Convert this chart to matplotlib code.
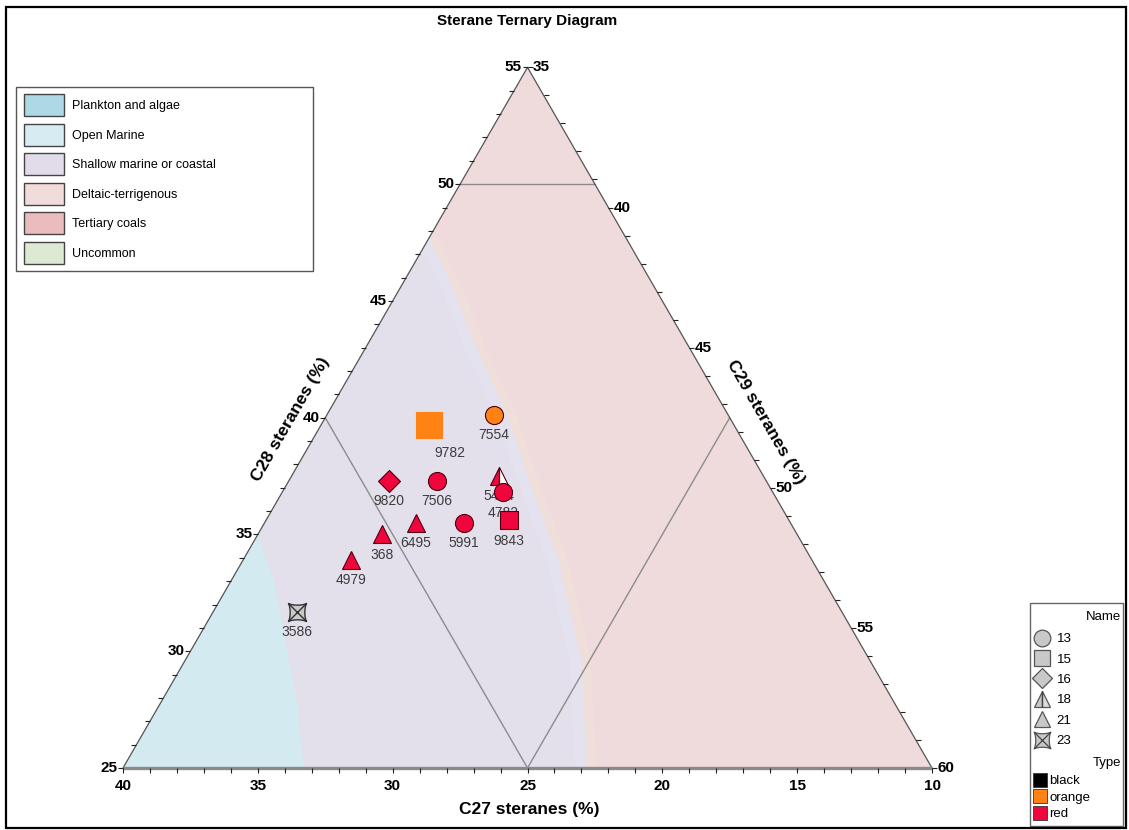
import numpy as np
import matplotlib as mpl
mpl.use('Agg')
import matplotlib.pyplot as plt
from matplotlib.path import Path
from matplotlib.patches import Polygon, Patch, Rectangle
from matplotlib.lines import Line2D
from matplotlib.collections import LineCollection

plt.rcParams['font.family'] = ['Liberation Sans', 'DejaVu Sans']

# sample compositions, % of C27 / C28 / C29 steranes
names = ['9782', '7554', '9820', '7506', '5474', '4782', '9843', '5991', '6495', '368', '4979', '3586']
c27 = [21.3, 18.7, 24.0, 22.2, 19.8, 20.0, 20.4, 22.1, 23.9, 25.4, 27.1, 30.2]
c28 = [39.7, 40.1, 37.3, 37.3, 37.5, 36.8, 35.6, 35.5, 35.5, 35.0, 33.9, 31.7]
c29 = [39.0, 41.2, 38.7, 40.5, 42.7, 43.2, 44.0, 42.4, 40.6, 39.6, 39.0, 38.1]
group = [15, 13, 16, 13, 18, 13, 15, 13, 21, 21, 21, 23]
kind = ['orange', 'orange', 'red', 'red', 'red', 'red', 'red', 'red', 'red', 'red', 'red', 'black']

# environment field boundaries (C27, C28)
marine_c27 = [30.0, 30.4, 31.4, 32.1, 33.3]
marine_c28 = [35.0, 33.0, 30.0, 27.9, 25.0]
shallow_c27 = [17.3, 17.5, 17.9, 18.2, 18.7, 19.1, 19.4, 20.7, 22.8]
shallow_c28 = [47.7, 45.4, 43.0, 40.1, 37.7, 35.6, 33.9, 29.6, 25.0]

c27_ticks = [40, 35, 30, 25, 20, 15, 10]
c28_ticks = [25, 30, 35, 40, 45, 50, 55]
c29_ticks = [35, 40, 45, 50, 55, 60]

field_names = ['Plankton and algae', 'Open Marine', 'Shallow marine or coastal',
               'Deltaic-terrigenous', 'Tertiary coals', 'Uncommon']
field_colors = ['#acd9e4', '#d6ecf2', '#e2dcea', '#f2dcdb', '#ebbcbe', '#dcead4']

name_codes = ['13', '15', '16', '18', '21', '23']
type_names = ['black', 'orange', 'red']
type_colors = {'black': '#000000', 'orange': '#ff8214', 'red': '#f0063c'}

SQ3 = np.sqrt(3) / 2
C28_MIN, C29_MIN, SPAN = 25.0, 35.0, 30.0
PX = 809.0  # pixels per unit of triangle side
W, H = 1129.0, 830.0


def tern(a, b, c):
    b = np.asarray(b, float)
    c = np.asarray(c, float)
    wt = (b - C28_MIN) / SPAN
    wr = (c - C29_MIN) / SPAN
    return wr + 0.5 * wt, SQ3 * wt


def astroid_marker(p=2.6):
    t = np.linspace(0, 2 * np.pi, 61)
    x = np.sign(np.cos(t)) * np.abs(np.cos(t)) ** p
    y = np.sign(np.sin(t)) * np.abs(np.sin(t)) ** p
    r = np.pi / 4
    xr = x * np.cos(r) - y * np.sin(r)
    yr = x * np.sin(r) + y * np.cos(r)
    return Path(np.column_stack([xr, yr]), closed=True)


STAR = astroid_marker()
shape = {13: 'o', 15: 's', 16: 'D', 18: '^', 21: '^', 23: STAR}

fig = plt.figure(figsize=(11.29, 8.30), dpi=100)
ax = fig.add_axes([0, 0, 1, 1])
ax.set_xlim(-123 / PX, 1006 / PX)
ax.set_ylim(-62 / PX, 768 / PX)
ax.axis('off')

BL = tern(40, 25, 35)
BR = tern(10, 25, 65)
TP = tern(10, 55, 35)

tri = Polygon([BL, BR, TP], closed=True, facecolor='#efdbdb', edgecolor='none', zorder=0)
ax.add_patch(tri)


def field(bc27, bc28, shift, color, z):
    a = np.asarray(bc27) + shift
    b = np.asarray(bc28)
    x, y = tern(a, b, 100 - a - b)
    # close the field round the lower-left corner, well outside the triangle
    xs = np.r_[x[0] - 0.3, x, x[-1], -0.3, -0.3]
    ys = np.r_[y[0], y, -0.1, -0.1, y[0]]
    p = Polygon(np.column_stack([xs, ys]), closed=True, facecolor=color, edgecolor='none', zorder=z)
    ax.add_patch(p)
    p.set_clip_path(tri)


# fields, with a soft fringe along the shallow / deltaic boundary
field(shallow_c27, shallow_c28, -0.35, '#f0dedb', 0.3)
field(shallow_c27, shallow_c28, 0.0, '#e4e2ee', 0.4)
field(shallow_c27, shallow_c28, 0.45, '#e3dfeb', 0.5)
field(marine_c27, marine_c28, 0.0, '#d4eaf1', 0.6)

# field divider lines
for a, b in [((15, 50, 35), (10, 50, 40)), ((25, 40, 35), (25, 25, 50)), ((25, 25, 50), (10, 40, 50))]:
    pa, pb = tern(*a), tern(*b)
    ax.plot([pa[0], pb[0]], [pa[1], pb[1]], color='#8c8c8c', lw=1.0, zorder=2)

# triangle edges
ax.plot([BL[0], TP[0], BR[0]], [BL[1], TP[1], BR[1]], color='#555555', lw=0.9, zorder=3)
ax.plot([BL[0], BR[0]], [BL[1], BR[1]], color='#8a8a8a', lw=2.4, zorder=3, solid_capstyle='butt')

tl = 5 / PX
segs = []
for v in range(10, 41):
    x, y = tern(v, 25, 75 - v)
    segs.append([(x, y), (x, y - tl)])
for v in range(25, 56):
    x, y = tern(65 - v, v, 35)
    segs.append([(x, y), (x - tl, y)])
for k in range(26):
    f = k / 25
    x = TP[0] + f * (BR[0] - TP[0])
    y = TP[1] + f * (BR[1] - TP[1])
    segs.append([(x, y), (x + tl, y)])
ax.add_collection(LineCollection(segs, colors='#222222', linewidths=0.8, zorder=3))

tick_font = dict(fontsize=11, fontweight='bold', color='black')
for v in c27_ticks:
    ax.annotate(str(v), tern(v, 25, 75 - v), xytext=(0, -8), textcoords='offset points',
                ha='center', va='top', **tick_font)
for v in c28_ticks:
    ax.annotate(str(v), tern(65 - v, v, 35), xytext=(-4, 0), textcoords='offset points',
                ha='right', va='center', **tick_font)
for v in c29_ticks:
    f = (v - c29_ticks[0]) / (c29_ticks[-1] - c29_ticks[0])
    x = TP[0] + f * (BR[0] - TP[0])
    y = TP[1] + f * (BR[1] - TP[1])
    ax.annotate(str(v), (x, y), xytext=(4, 0), textcoords='offset points',
                ha='left', va='center', **tick_font)

title_font = dict(fontsize=12.5, fontweight='bold', color='black')
ax.annotate('C27 steranes (%)', ((BL[0] + BR[0]) / 2, BL[1]), xytext=(1, -30),
            textcoords='offset points', ha='center', va='center', **title_font)
ax.annotate('C28 steranes (%)', ((BL[0] + TP[0]) / 2, (BL[1] + TP[1]) / 2), xytext=(-25, -1),
            textcoords='offset points', ha='center', va='center', rotation=60, **title_font)
ax.annotate('C29 steranes (%)', ((BR[0] + TP[0]) / 2, (BR[1] + TP[1]) / 2), xytext=(26, -3),
            textcoords='offset points', ha='center', va='center', rotation=-60, **title_font)

fig.text(527 / W, 1 - 21 / H, 'Sterane Ternary Diagram', ha='center', va='center',
         fontsize=11, fontweight='bold')

# samples
px, py = tern(c27, c28, c29)
big = {'9782': 19}
nudge = {'9782': (15, -3)}
for i, name in enumerate(names):
    ms = big.get(name, 13)
    col = type_colors[kind[i]]
    g = group[i]
    if g == 23:
        ax.plot(px[i], py[i], marker=STAR, ms=ms, mfc='#c9c9c9', mec='#333333', mew=1.0,
                ls='none', zorder=6)
        ax.plot(px[i], py[i], marker='x', ms=ms * 0.95, mec='#333333', mew=1.0, ls='none', zorder=6)
    elif g == 18:
        ax.plot(px[i], py[i], marker='^', ms=ms, mfc=col, mec='#4a0010', mew=0.8,
                fillstyle='left', markerfacecoloralt='white', ls='none', zorder=6)
        ax.plot(px[i], py[i], marker='|', ms=ms, mec='#222222', mew=0.8, ls='none', zorder=6)
    else:
        edge = col if (g == 15 and kind[i] == 'orange') else '#4a0010'
        ax.plot(px[i], py[i], marker=shape[g], ms=ms if g != 16 else ms * 0.85, mfc=col,
                mec=edge, mew=0.8, ls='none', zorder=6)
    dx, dy = nudge.get(name, (0, 0))
    ax.annotate(name, (px[i], py[i]), xytext=(dx, -ms / 2 - 8 + dy), textcoords='offset points',
                ha='center', va='center', fontsize=10, color='#3c3c3c', zorder=5)

# field legend
handles = [Patch(facecolor=c, edgecolor='#444444', lw=1.0) for c in field_colors]
fig.legend(handles, field_names, loc='upper left',
           bbox_to_anchor=(16 / W, 1 - 271 / H, 297 / W, 184 / H), mode='expand',
           fontsize=9, frameon=True, fancybox=False, edgecolor='#555555', framealpha=1,
           handlelength=3.2, handleheight=2.33, labelspacing=0.6, borderpad=0.6,
           handletextpad=0.7, borderaxespad=0)

# marker / type legend
gray = dict(mfc='#c8c8c8', mec='#555555', mew=0.9, ls='none', ms=12)
name_handles = [Line2D([], [], marker='o', **gray),
                Line2D([], [], marker='s', **gray),
                Line2D([], [], marker='D', **{**gray, 'ms': 10.5}),
                (Line2D([], [], marker='^', fillstyle='left', markerfacecoloralt='#dcdcdc', **gray),
                 Line2D([], [], marker='|', mec='#444444', mew=0.9, ls='none', ms=12)),
                Line2D([], [], marker='^', **gray),
                (Line2D([], [], marker=STAR, **gray),
                 Line2D([], [], marker='x', mec='#444444', mew=0.9, ls='none', ms=11.5))]
fig.legend(name_handles, name_codes, loc='upper left', bbox_to_anchor=(1033 / W, 1 - 633 / H),
           fontsize=9.5, frameon=False, handlelength=1.3, handletextpad=0.5, labelspacing=0.62,
           borderpad=0, borderaxespad=0)
type_handles = [Line2D([], [], marker='s', ms=10, mfc=type_colors[k], mec='#333333', mew=0.6, ls='none')
                for k in type_names]
fig.legend(type_handles, type_names, loc='upper left', bbox_to_anchor=(1033 / W, 1 - 775 / H),
           fontsize=9.5, frameon=False, handlelength=1.05, handletextpad=0.2, labelspacing=0.33,
           borderpad=0, borderaxespad=0)
fig.text(1121 / W, 1 - 617 / H, 'Name', ha='right', va='center', fontsize=9.5)
fig.text(1121 / W, 1 - 763 / H, 'Type', ha='right', va='center', fontsize=9.5)
fig.patches.append(Rectangle((1030 / W, 1 - 826 / H), 93 / W, 223 / H, transform=fig.transFigure,
                             fill=False, edgecolor='#666666', lw=1.0))

# outer frame
fig.patches.append(Rectangle((6 / W, 2 / H), 1120 / W, 821 / H, transform=fig.transFigure,
                             fill=False, edgecolor='black', lw=1.6))

fig.savefig('out.png', dpi=100)
